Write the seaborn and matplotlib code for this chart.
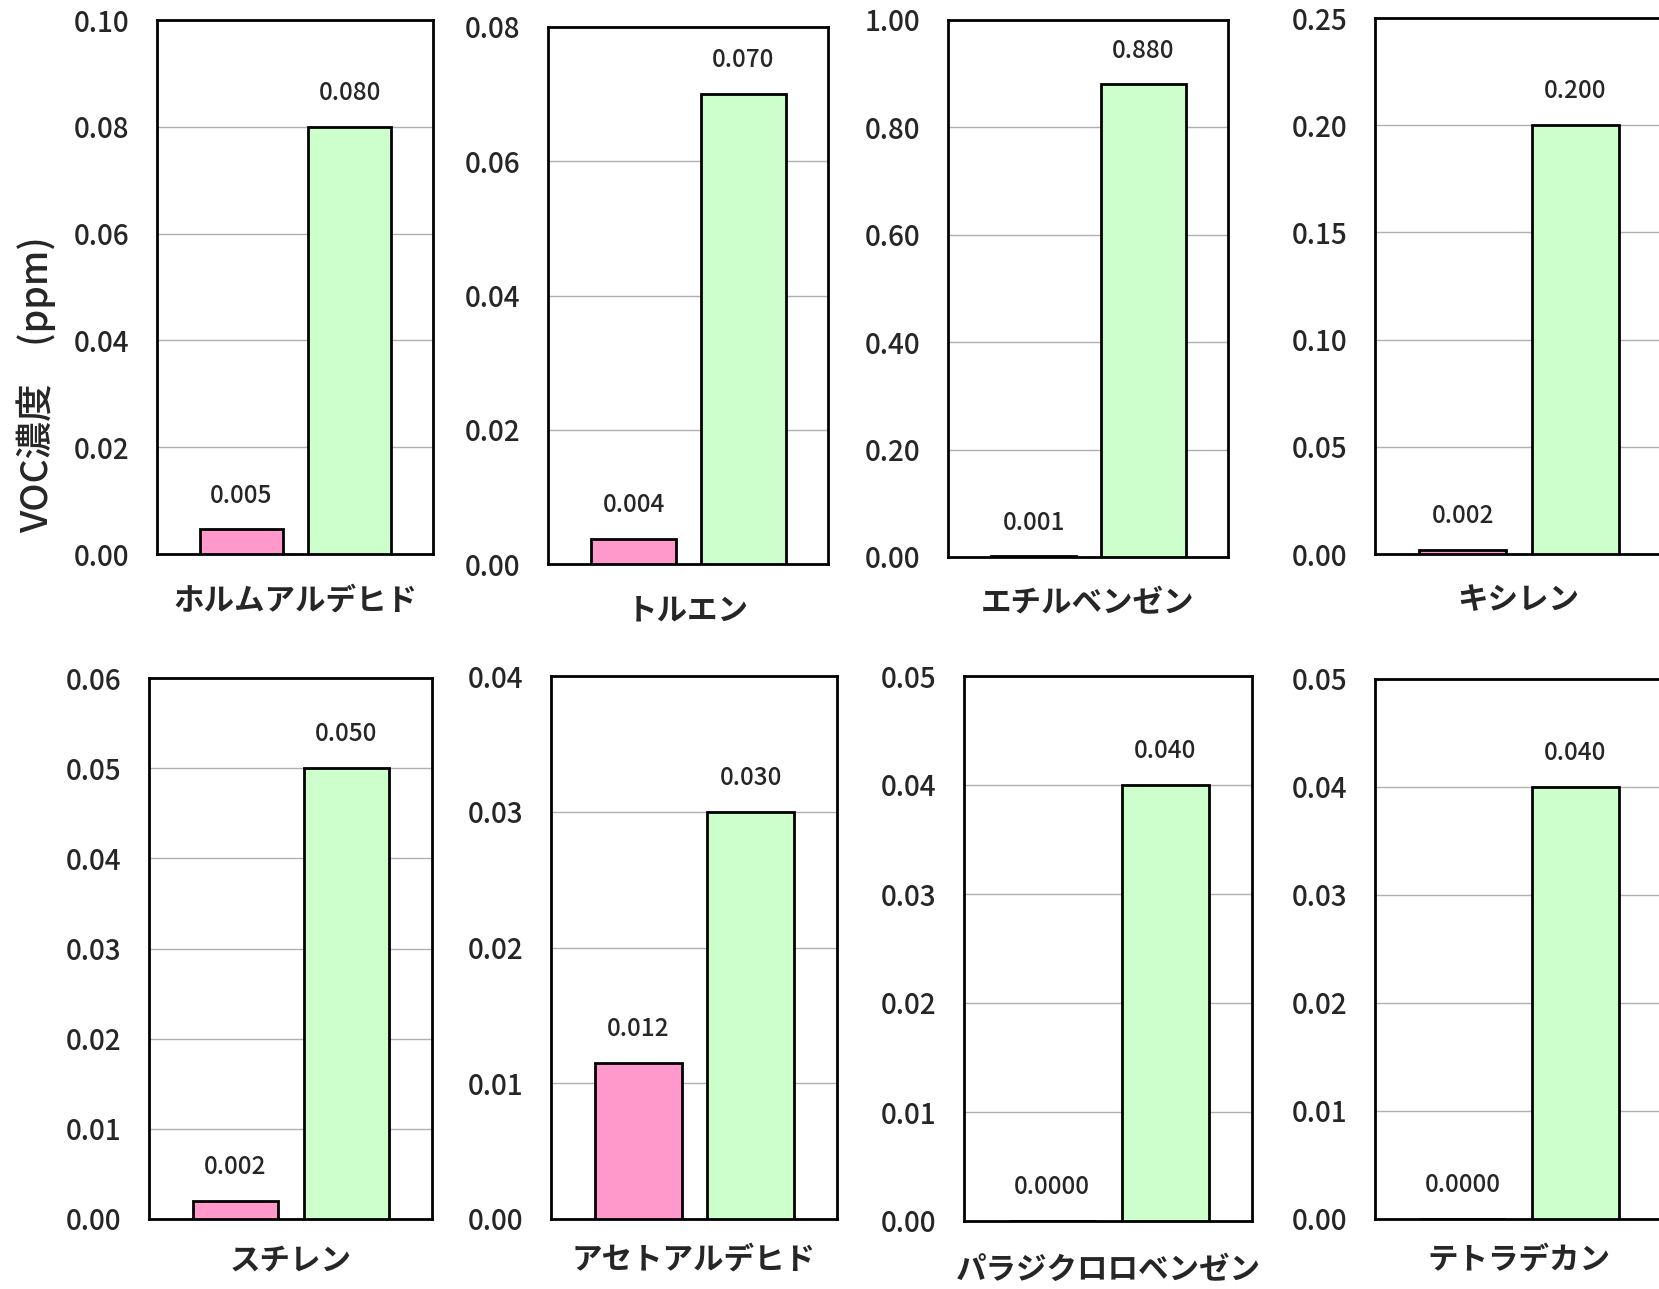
import matplotlib
matplotlib.use("Agg")
import matplotlib.pyplot as plt
import seaborn as sns
import numpy as np
import pandas as pd

sns.set_theme(style="white")
plt.rcParams['font.family'] = ['Noto Sans CJK JP', 'DejaVu Sans']

# ---- data ----
compounds = ["ホルムアルデヒド", "トルエン", "エチルベンゼン", "キシレン",
             "スチレン", "アセトアルデヒド", "パラジクロロベンゼン", "テトラデカン"]
series = ["A", "B"]
pink_values = [0.0046, 0.0037, 0.001, 0.002, 0.002, 0.0115, 0.0, 0.0]
green_values = [0.080, 0.070, 0.880, 0.200, 0.050, 0.030, 0.040, 0.040]
pink_labels = ["0.005", "0.004", "0.001", "0.002", "0.002", "0.012", "0.0000", "0.0000"]
green_labels = ["0.080", "0.070", "0.880", "0.200", "0.050", "0.030", "0.040", "0.040"]
y_max = [0.10, 0.08, 1.00, 0.25, 0.06, 0.04, 0.05, 0.05]
y_step = [0.02, 0.02, 0.20, 0.05, 0.01, 0.01, 0.01, 0.01]
y_label = "VOC濃度　(ppm)"

colors = ["#FF99CC", "#CCFFCC"]

W, H = 1659, 1289
fig = plt.figure(figsize=(W / 100, H / 100), dpi=100)

# axes boxes in pixels: left, right, top, bottom
boxes = [
    (157, 433, 20, 554),
    (548, 828, 27, 564),
    (948, 1228, 20, 557),
    (1375, 1662, 18, 554),
    (149, 432, 678, 1219),
    (551, 837, 676, 1219),
    (964, 1252, 676, 1221),
    (1375, 1662, 679, 1219),
]
xlabel_pads = [22, 22, 22, 22, 18, 18, 24, 18]

for i, (l, r, t, b) in enumerate(boxes):
    ax = fig.add_axes([l / W, 1 - b / H, (r - l) / W, (b - t) / H])
    df = pd.DataFrame({"series": series, "value": [pink_values[i], green_values[i]]})
    sns.barplot(data=df, x="series", y="value", hue="series", palette=colors,
                legend=False, edgecolor="black", linewidth=2.0, width=0.77,
                saturation=1, ax=ax, zorder=3)
    ax.set_xlim(-0.78, 1.77)
    ax.set_ylim(0, y_max[i])
    ticks = np.arange(0, y_max[i] + y_step[i] / 2, y_step[i])
    ax.set_yticks(ticks)
    ax.set_yticklabels([f"{v:.2f}" for v in ticks], fontsize=20, fontweight="medium")
    ax.yaxis.grid(True, color="#b0b0b0", linewidth=1.0)
    ax.xaxis.grid(False)
    ax.set_axisbelow(True)
    ax.set_xticks([])
    ax.tick_params(axis="y", length=0, pad=20)
    ax.set_ylabel("")
    ax.set_xlabel(compounds[i], fontsize=22, fontweight="bold", labelpad=xlabel_pads[i])
    for s in ax.spines.values():
        s.set_color("black")
        s.set_linewidth(2.0)
        s.set_visible(True)
    labels = [pink_labels[i], green_labels[i]]
    for p, txt in zip(ax.patches, labels):
        ax.annotate(txt, (p.get_x() + p.get_width() / 2, p.get_height()),
                    xytext=(0, 15), textcoords="offset points",
                    ha="center", va="bottom", fontsize=17.5, fontweight="medium")

fig.text(36 / W, 1 - 385 / H, y_label, rotation=90, ha="center", va="center",
         fontsize=27, fontweight="medium")

fig.savefig("out.png", dpi=100, facecolor="white")
